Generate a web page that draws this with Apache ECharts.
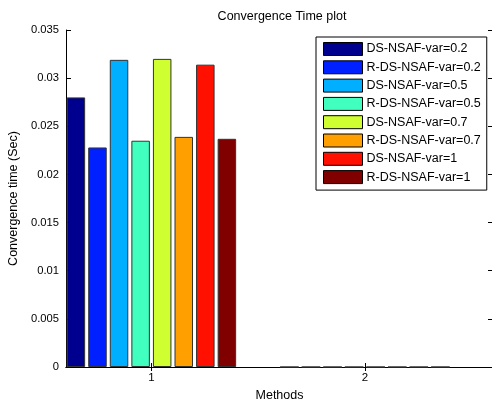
<!DOCTYPE html>
<html>
<head>
<meta charset="utf-8">
<script src="https://cdn.jsdelivr.net/npm/echarts@6/dist/echarts.min.js"></script>
<style>html,body{margin:0;padding:0;background:#fff;}#c{width:492px;height:401px;}</style>
</head>
<body>
<div id="c"></div>
<script>
var methods = [1, 2];
var seriesNames = ['DS-NSAF-var=0.2','R-DS-NSAF-var=0.2','DS-NSAF-var=0.5','R-DS-NSAF-var=0.5','DS-NSAF-var=0.7','R-DS-NSAF-var=0.7','DS-NSAF-var=1','R-DS-NSAF-var=1'];
var method1Values = [0.0280, 0.0228, 0.0319, 0.0235, 0.0320, 0.0239, 0.0314, 0.0237];
var method2Values = [0, 0, 0, 0, 0, 0, 0, 0];
var colors = ['#00008F','#0020FF','#00AFFF','#40FFBF','#CFFF30','#FF9F00','#FF1000','#800000'];
var yTicks = [0, 0.005, 0.01, 0.015, 0.02, 0.025, 0.03, 0.035];

var FONT = 'Liberation Sans, Arial, sans-serif';
var chart = echarts.init(document.getElementById('c'), null, {renderer: 'canvas'});

var series = seriesNames.map(function (name, i) {
  return {
    name: name,
    type: 'bar',
    xAxisIndex: 0,
    yAxisIndex: 0,
    barWidth: 18.5,
    barGap: '16.6%',
    itemStyle: {color: colors[i], borderColor: '#333', borderWidth: 1},
    data: [[methods[0], method1Values[i]], [methods[1], method2Values[i]]],
    silent: true,
    animation: false
  };
});

var lineCol = '#000';
var option = {
  animation: false,
  title: {
    text: 'Convergence Time plot',
    left: 277, top: 5, textAlign: 'center',
    textStyle: {fontFamily: FONT, fontSize: 12.5, fontWeight: 'normal', color: '#000'}
  },
  legend: {
    left: 316, top: 37,
    orient: 'vertical',
    icon: 'rect',
    itemWidth: 39, itemHeight: 13, itemGap: 4.3,
    padding: [5, 6, 6, 7],
    borderColor: '#000', borderWidth: 1, borderRadius: 0,
    backgroundColor: '#fff',
    textStyle: {fontFamily: FONT, fontSize: 12.5, lineHeight: 13, height: 13, color: '#000', padding: [0, 0, 0, -1]},
    itemStyle: {borderColor: '#000', borderWidth: 1},
    selectedMode: false,
    data: seriesNames
  },
  grid: {left: 66, top: 30, width: 427, height: 337, containLabel: false, outerBoundsMode: 'none'},
  xAxis: [{
    type: 'value', min: 0.6, max: 2.6, position: 'bottom',
    name: 'Methods', nameLocation: 'middle', nameGap: 19,
    nameTextStyle: {fontFamily: FONT, fontSize: 12.5, color: '#000'},
    axisLine: {show: true, lineStyle: {color: lineCol, width: 1}},
    axisTick: {show: true, inside: true, length: 4, customValues: methods, lineStyle: {color: lineCol}},
    axisLabel: {show: true, customValues: methods, margin: 5, fontFamily: FONT, fontSize: 11.5, color: '#000'},
    splitLine: {show: false}
  }, {
    type: 'value', min: 0.6, max: 2.6, position: 'top',
    axisLine: {show: true, lineStyle: {color: lineCol, width: 1}},
    axisTick: {show: true, inside: true, length: 4, customValues: methods, lineStyle: {color: lineCol}},
    axisLabel: {show: false},
    splitLine: {show: false}
  }],
  yAxis: [{
    type: 'value', min: 0, max: 0.035, interval: 0.005, position: 'left',
    name: 'Convergence time (Sec)', nameLocation: 'middle', nameGap: 43,
    nameTextStyle: {fontFamily: FONT, fontSize: 12.5, color: '#000'},
    axisLine: {show: true, lineStyle: {color: lineCol, width: 1}},
    axisTick: {show: true, inside: true, length: 5, lineStyle: {color: lineCol}},
    axisLabel: {show: true, margin: 7, fontFamily: FONT, fontSize: 11.2, color: '#000',
      formatter: function (v) { return String(parseFloat(v.toFixed(3))); }},
    splitLine: {show: false}
  }, {
    type: 'value', min: 0, max: 0.035, interval: 0.005, position: 'right',
    axisLine: {show: true, lineStyle: {color: lineCol, width: 1}},
    axisTick: {show: true, inside: true, length: 5, lineStyle: {color: lineCol}},
    axisLabel: {show: false},
    splitLine: {show: false}
  }],
  series: series
};
chart.setOption(option);
</script>
</body>
</html>
